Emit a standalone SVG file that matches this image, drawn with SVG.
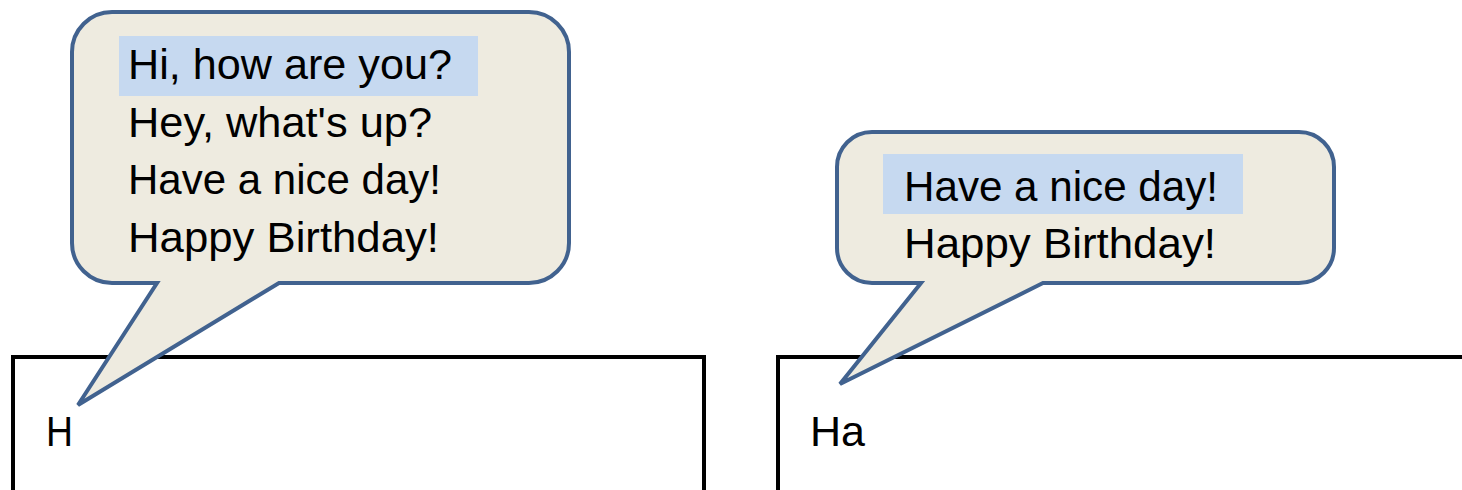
<svg xmlns="http://www.w3.org/2000/svg" width="1462" height="490" viewBox="0 0 1462 490">
<style>
.box{fill:#fff;stroke:#000;stroke-width:4;}
.bubble{fill:#EEEBE0;stroke:#41628F;stroke-width:4;stroke-linejoin:miter;}
.hl{fill:#C6D9F0;}
text{font-family:"Liberation Sans",Arial,sans-serif;font-size:42px;fill:#000;}
</style>
<g id="connectors"></g>
<g id="field-left">
<path class="box" d="M 13 492 V 357 H 704 V 492"/>
<text x="46" y="446" textLength="27" lengthAdjust="spacingAndGlyphs">H</text>
</g>
<g id="field-right">
<path class="box" d="M 778 492 V 357 H 1466"/>
<text x="810" y="446" textLength="55" lengthAdjust="spacingAndGlyphs">Ha</text>
</g>
<g id="bubble-left">
<path class="bubble" d="M 112 12 H 529 A 40 40 0 0 1 569 52 V 243 A 40 40 0 0 1 529 283 H 279 L 78 405 L 157 283 H 112 A 40 40 0 0 1 72 243 V 52 A 40 40 0 0 1 112 12 Z"/>
<rect class="hl" x="119" y="36" width="359" height="60"/>
<text x="128" y="79" textLength="324" lengthAdjust="spacingAndGlyphs">Hi, how are you?</text>
<text x="128" y="137" textLength="304" lengthAdjust="spacingAndGlyphs">Hey, what's up?</text>
<text x="128" y="194" textLength="313" lengthAdjust="spacingAndGlyphs">Have a nice day!</text>
<text x="128" y="252" textLength="311" lengthAdjust="spacingAndGlyphs">Happy Birthday!</text>
</g>
<g id="bubble-right">
<path class="bubble" d="M 872 132 H 1299 A 35 35 0 0 1 1334 167 V 248 A 35 35 0 0 1 1299 283 H 1043 L 840 384 L 921 283 H 872 A 35 35 0 0 1 837 248 V 167 A 35 35 0 0 1 872 132 Z"/>
<rect class="hl" x="883" y="154" width="360" height="60"/>
<text x="904" y="201" textLength="314" lengthAdjust="spacingAndGlyphs">Have a nice day!</text>
<text x="904" y="258" textLength="312" lengthAdjust="spacingAndGlyphs">Happy Birthday!</text>
</g>
</svg>
